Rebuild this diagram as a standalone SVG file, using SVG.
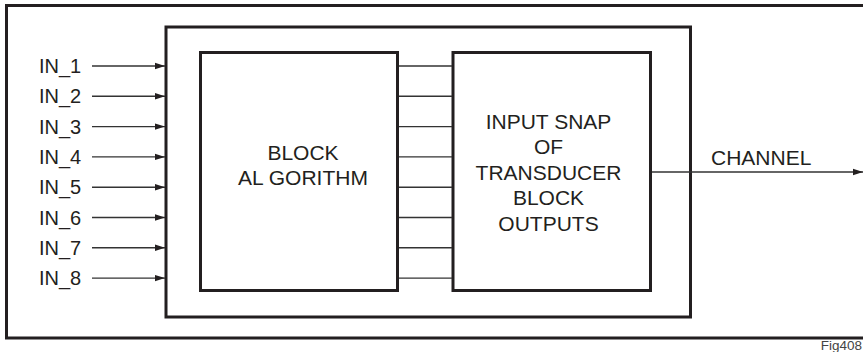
<svg xmlns="http://www.w3.org/2000/svg" width="863" height="352" viewBox="0 0 863 352">
<style>
.box{fill:none;stroke:#231f20;stroke-width:3}
.ln{fill:none;stroke:#333;stroke-width:1.4}
.t{font-family:"Liberation Sans",Arial,sans-serif;font-size:21px;fill:#231f20}
.s{font-size:20px}
.c{text-anchor:middle}
</style>
<defs>
<marker id="ah" markerWidth="10" markerHeight="8" refX="10" refY="4" orient="auto" markerUnits="userSpaceOnUse">
<path d="M0,0.8 L10,4 L0,7.2 Z" fill="#231f20"/>
</marker>
</defs>
<rect width="863" height="352" fill="#fff"/>
<g id="frame">
<path class="box" d="M863,5.5 H6.5 V338 H863"/>
</g>
<g id="outer-block">
<rect class="box" x="166" y="27" width="524.5" height="290"/>
</g>
<g id="block-algorithm">
<rect class="box" x="200.5" y="52.5" width="197" height="238"/>
<text class="t c" x="303" y="160">BLOCK</text>
<text class="t c" x="303" y="184.5">AL GORITHM</text>
</g>
<g id="input-snap">
<rect class="box" x="453" y="52.5" width="197.5" height="238"/>
<text class="t c" x="548.5" y="128.5">INPUT SNAP</text>
<text class="t c" x="548.5" y="154">OF</text>
<text class="t c" x="548.5" y="179.5">TRANSDUCER</text>
<text class="t c" x="548.5" y="205">BLOCK</text>
<text class="t c" x="548.5" y="230.5">OUTPUTS</text>
</g>
<g id="labels">
<text class="t s" x="39" y="73">IN_1</text>
<text class="t s" x="39" y="103.3">IN_2</text>
<text class="t s" x="39" y="133.6">IN_3</text>
<text class="t s" x="39" y="163.9">IN_4</text>
<text class="t s" x="39" y="194.2">IN_5</text>
<text class="t s" x="39" y="224.5">IN_6</text>
<text class="t s" x="39" y="254.8">IN_7</text>
<text class="t s" x="39" y="285.1">IN_8</text>
<text class="t" x="711" y="165">CHANNEL</text>
<text x="862" y="350" style="font-family:'Liberation Sans',Arial,sans-serif;font-size:13.5px;fill:#444;text-anchor:end">Fig408</text>
</g>
<g id="connectors">
<line class="ln" x1="92" y1="66" x2="165" y2="66" marker-end="url(#ah)"/>
<line class="ln" x1="92" y1="96.3" x2="165" y2="96.3" marker-end="url(#ah)"/>
<line class="ln" x1="92" y1="126.6" x2="165" y2="126.6" marker-end="url(#ah)"/>
<line class="ln" x1="92" y1="156.9" x2="165" y2="156.9" marker-end="url(#ah)"/>
<line class="ln" x1="92" y1="187.2" x2="165" y2="187.2" marker-end="url(#ah)"/>
<line class="ln" x1="92" y1="217.5" x2="165" y2="217.5" marker-end="url(#ah)"/>
<line class="ln" x1="92" y1="247.8" x2="165" y2="247.8" marker-end="url(#ah)"/>
<line class="ln" x1="92" y1="278.1" x2="165" y2="278.1" marker-end="url(#ah)"/>
<line class="ln" x1="399" y1="66" x2="452" y2="66"/>
<line class="ln" x1="399" y1="96.3" x2="452" y2="96.3"/>
<line class="ln" x1="399" y1="126.6" x2="452" y2="126.6"/>
<line class="ln" x1="399" y1="156.9" x2="452" y2="156.9"/>
<line class="ln" x1="399" y1="187.2" x2="452" y2="187.2"/>
<line class="ln" x1="399" y1="217.5" x2="452" y2="217.5"/>
<line class="ln" x1="399" y1="247.8" x2="452" y2="247.8"/>
<line class="ln" x1="399" y1="278.1" x2="452" y2="278.1"/>
<line class="ln" x1="652" y1="172" x2="863" y2="172" marker-end="url(#ah)"/>
</g>
</svg>
